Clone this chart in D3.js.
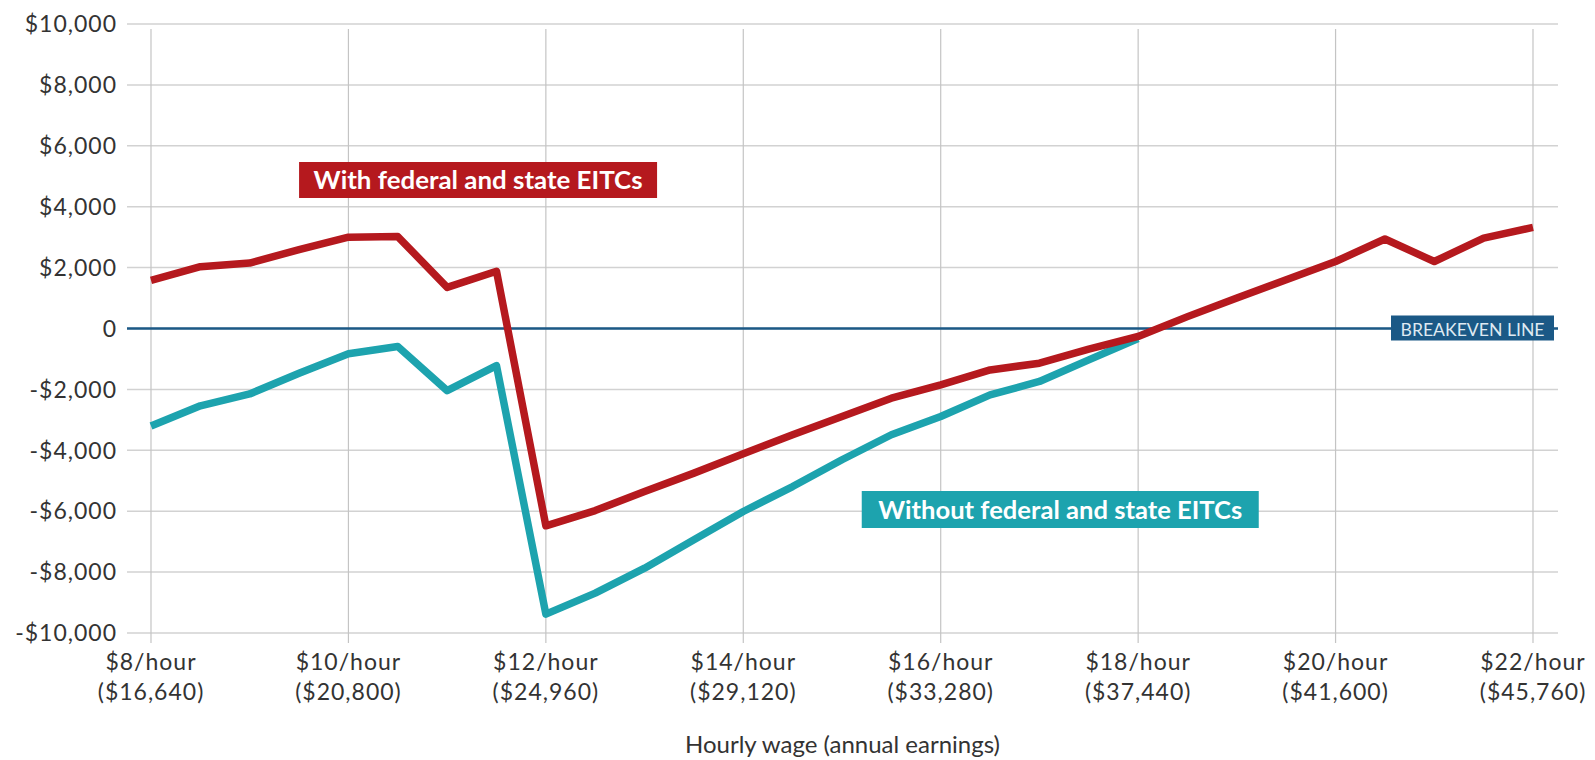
<!DOCTYPE html>
<html>
<head>
<meta charset="utf-8">
<style>
  body { margin: 0; background: #fff; }
  text { font-family: Lato, "Open Sans", sans-serif; }
</style>
</head>
<body>
<div id="chart"></div>
<script src="https://d3js.org/d3.v7.min.js"></script>
<script>
// wage steps, $0.50 apart
var wages = [8, 8.5, 9, 9.5, 10, 10.5, 11, 11.5, 12, 12.5, 13, 13.5, 14, 14.5, 15,
             15.5, 16, 16.5, 17, 17.5, 18, 18.5, 19, 19.5, 20, 20.5, 21, 21.5, 22];

// net gain/loss, with federal and state EITCs
var withEitc = [1580, 2030, 2150, 2590, 3000, 3020, 1350, 1880, -6480, -5980, -5350, -4750,
                -4110, -3490, -2890, -2290, -1850, -1360, -1140, -680, -260, 390, 1000,
                1600, 2200, 2940, 2200, 2970, 3320];

// without EITCs (merges with the other line at $18)
var withoutEitc = [-3200, -2540, -2150, -1470, -830, -590, -2040, -1220, -9380, -8690, -7870,
                   -6940, -6010, -5190, -4310, -3490, -2890, -2180, -1740, -1030, -330];

var yTicks = [10000, 8000, 6000, 4000, 2000, 0, -2000, -4000, -6000, -8000, -10000];
var yTickLabels = ["$10,000", "$8,000", "$6,000", "$4,000", "$2,000", "0",
                   "-$2,000", "-$4,000", "-$6,000", "-$8,000", "-$10,000"];

var xTicks = [8, 10, 12, 14, 16, 18, 20, 22];
var hourLabels = ["$8/hour", "$10/hour", "$12/hour", "$14/hour", "$16/hour", "$18/hour", "$20/hour", "$22/hour"];
var earnLabels = ["($16,640)", "($20,800)", "($24,960)", "($29,120)", "($33,280)", "($37,440)", "($41,600)", "($45,760)"];

var red = "#b5191e", teal = "#1da3ae", navy = "#1b5986";

var width = 1595, height = 760;
var gridLeft = 127, gridRight = 1558;

var svg = d3.select("#chart").append("svg")
    .attr("width", width)
    .attr("height", height);

svg.append("rect").attr("width", width).attr("height", height).attr("fill", "#fff");

var x = d3.scaleLinear().domain([8, 22]).range([151, 1533]);
var y = d3.scaleLinear().domain([-10000, 10000]).range([633, 24]);

// horizontal grid
svg.append("g")
  .selectAll("line")
  .data(yTicks)
  .enter().append("line")
    .attr("x1", gridLeft)
    .attr("x2", gridRight)
    .attr("y1", function(d) { return y(d); })
    .attr("y2", function(d) { return y(d); })
    .attr("stroke", "#d2d2d2")
    .attr("stroke-width", 1.5);

// vertical grid, running a little below the bottom line as ticks
svg.append("g")
  .selectAll("line")
  .data(xTicks)
  .enter().append("line")
    .attr("x1", function(d) { return x(d); })
    .attr("x2", function(d) { return x(d); })
    .attr("y1", y(10000) + 5)
    .attr("y2", y(-10000) + 10)
    .attr("stroke", "#c4c4c4")
    .attr("stroke-width", 1.2);

// breakeven line
svg.append("line")
    .attr("x1", gridLeft)
    .attr("x2", gridRight)
    .attr("y1", y(0))
    .attr("y2", y(0))
    .attr("stroke", navy)
    .attr("stroke-width", 2.5);

// y labels
svg.append("g")
  .selectAll("text")
  .data(yTicks)
  .enter().append("text")
    .attr("x", 117)
    .attr("y", function(d) { return y(d); })
    .attr("dy", "0.36em")
    .attr("text-anchor", "end")
    .attr("fill", "#333")
    .style("font-size", "23px")
    .style("letter-spacing", "1px")
    .text(function(d, i) { return yTickLabels[i]; });

// x labels, two lines each
var xl = svg.append("g")
  .selectAll("g")
  .data(xTicks)
  .enter().append("g")
    .attr("transform", function(d) { return "translate(" + x(d) + ",0)"; });

xl.append("text")
    .attr("y", 670)
    .attr("text-anchor", "middle")
    .attr("fill", "#333")
    .style("font-size", "23px")
    .style("letter-spacing", "1px")
    .text(function(d, i) { return hourLabels[i]; });

xl.append("text")
    .attr("y", 700)
    .attr("text-anchor", "middle")
    .attr("fill", "#333")
    .style("font-size", "23px")
    .style("letter-spacing", "1px")
    .text(function(d, i) { return earnLabels[i]; });

svg.append("text")
    .attr("x", (gridLeft + gridRight) / 2)
    .attr("y", 753)
    .attr("text-anchor", "middle")
    .attr("fill", "#333")
    .style("font-size", "24px")
    .text("Hourly wage (annual earnings)");

// lines
var line = d3.line()
    .x(function(d, i) { return x(wages[i]); })
    .y(function(d) { return y(d); });

svg.append("path")
    .datum(withoutEitc)
    .attr("d", line)
    .attr("fill", "none")
    .attr("stroke", teal)
    .attr("stroke-width", 7.5)
    .attr("stroke-linejoin", "round");

svg.append("path")
    .datum(withEitc)
    .attr("d", line)
    .attr("fill", "none")
    .attr("stroke", red)
    .attr("stroke-width", 7.5)
    .attr("stroke-linejoin", "round");

// labels in boxes
function boxLabel(txt, left, top, boxW, boxH, textW, baseline, size, fill, color, weight) {
  var g = svg.append("g");
  g.append("rect")
      .attr("x", left)
      .attr("y", top)
      .attr("width", boxW)
      .attr("height", boxH)
      .attr("fill", fill);
  g.append("text")
      .attr("x", left + boxW / 2)
      .attr("y", baseline)
      .attr("text-anchor", "middle")
      .attr("fill", color)
      .attr("textLength", textW)
      .attr("lengthAdjust", "spacingAndGlyphs")
      .style("font-size", size + "px")
      .style("font-weight", weight)
      .text(txt);
}

boxLabel("With federal and state EITCs", x(9.5), 162, 358, 36, 329, 189, 25, red, "#fff", "bold");
boxLabel("Without federal and state EITCs", x(15.2), 491, 397, 37, 364, 519, 25, teal, "#fff", "bold");
boxLabel("BREAKEVEN LINE", 1391, y(0) - 13, 163, 25, 144, y(0) + 7, 17, navy, "#dfeaf2", "normal");
</script>
</body>
</html>
